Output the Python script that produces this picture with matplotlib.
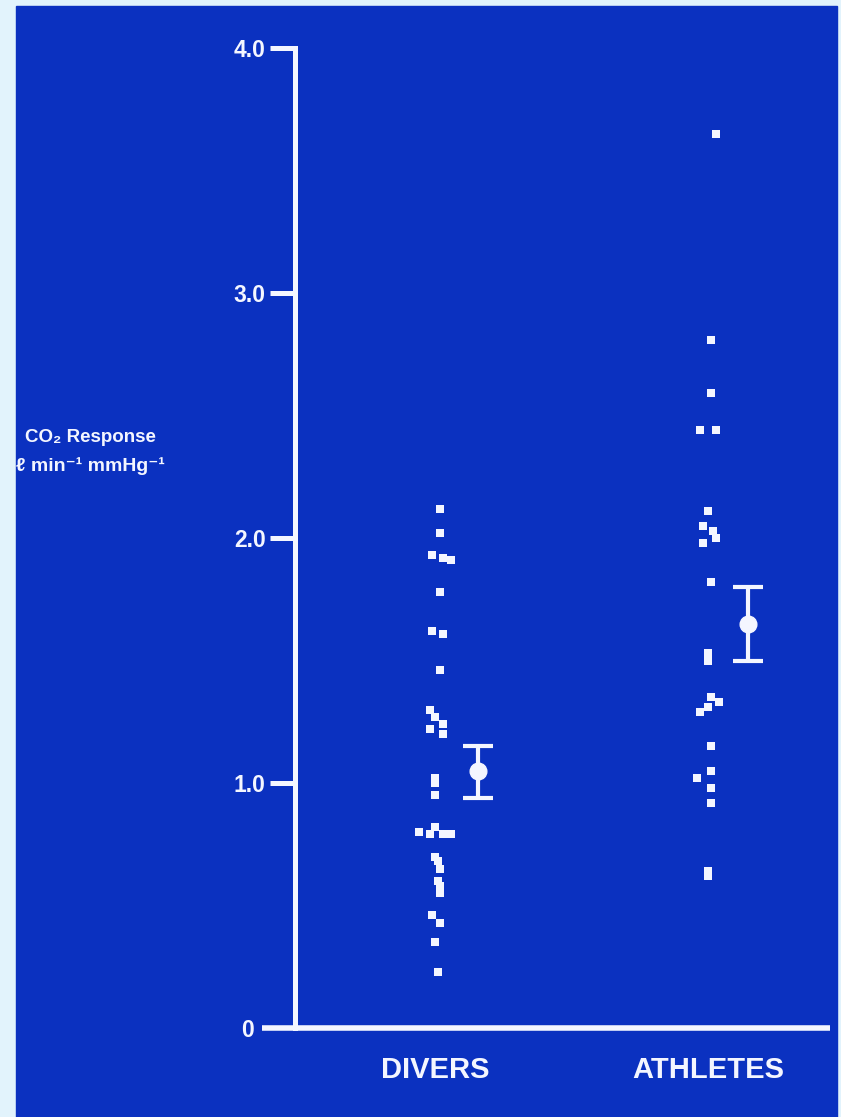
import matplotlib.pyplot as plt
from matplotlib.patches import Rectangle
from matplotlib.transforms import ScaledTranslation

# CO2 ventilatory response, l/min per mmHg
groups = ["DIVERS", "ATHLETES"]

divers = [2.12, 2.02, 1.93, 1.92, 1.91, 1.78, 1.62, 1.61, 1.46, 1.30, 1.27,
          1.24, 1.22, 1.20, 1.02, 1.00, 0.95, 0.82, 0.80, 0.79, 0.79, 0.79,
          0.70, 0.68, 0.65, 0.60, 0.58, 0.55, 0.46, 0.43, 0.35, 0.23]
athletes = [3.65, 2.81, 2.59, 2.44, 2.44, 2.11, 2.05, 2.03, 2.00, 1.98, 1.82,
            1.53, 1.50, 1.35, 1.33, 1.31, 1.29, 1.15, 1.05, 1.02, 0.98, 0.92,
            0.64, 0.62]

means = [1.05, 1.65]
sem_low = [0.11, 0.15]
sem_high = [0.10, 0.15]

y_ticks = [0, 1.0, 2.0, 3.0, 4.0]
y_tick_labels = ["0", "1.0", "2.0", "3.0", "4.0"]

# small sideways spread so tied values stay visible
divers_dx = [0.02, 0.02, -0.01, 0.03, 0.06, 0.02, -0.01, 0.03, 0.02, -0.02,
             0.0, 0.03, -0.02, 0.03, 0.0, 0.0, 0.0, 0.0, -0.06, -0.02, 0.03,
             0.06, 0.0, 0.01, 0.02, 0.01, 0.02, 0.02, -0.01, 0.02, 0.0, 0.01]
athletes_dx = [0.03, 0.01, 0.01, -0.03, 0.03, 0.0, -0.02, 0.02, 0.03, -0.02,
               0.01, 0.0, 0.0, 0.01, 0.04, 0.0, -0.03, 0.01, 0.01, -0.04,
               0.01, 0.01, 0.0, 0.0]

BLUE = "#0b31c0"
WHITE = "#f4f6ff"
FONT = ["Liberation Sans", "DejaVu Sans"]

W, H = 841, 1117
fig = plt.figure(figsize=(W / 100, H / 100), dpi=100)
fig.patch.set_facecolor("#e2f3fc")

# blue slide panel behind everything
fig.patches.append(Rectangle((16 / W, 0), (837 - 16) / W, (H - 6) / H,
                             transform=fig.transFigure, color=BLUE,
                             zorder=-10))

ax = fig.add_axes([295 / W, (H - 1028) / H, (830 - 295) / W, 980 / H])
ax.set_facecolor("none")
ax.set_xlim(-0.513, 1.447)
ax.set_ylim(0, 4.0)

for s in ["top", "right", "bottom"]:
    ax.spines[s].set_visible(False)
ax.spines["left"].set_color(WHITE)
ax.spines["left"].set_linewidth(3.6)
ax.axhline(0, xmin=-0.062, xmax=1.0, color=WHITE, lw=4.0,
           clip_on=False, solid_capstyle="butt")

ax.set_yticks(y_ticks, y_tick_labels)
ax.tick_params(axis="y", length=18, width=3.6, color=WHITE, pad=3,
               labelcolor=WHITE, labelsize=16.5)
ax.set_xticks([0, 1], groups)
ax.tick_params(axis="x", length=0, pad=20, labelcolor=WHITE, labelsize=21)
for lab in ax.get_xticklabels() + ax.get_yticklabels():
    lab.set_family(FONT)
    lab.set_fontweight("bold")

# the zero label sits left of where the baseline starts
zero_tick = ax.yaxis.get_major_ticks()[0]
zero_tick.tick1line.set_visible(False)
zero_tick.label1.set_transform(zero_tick.label1.get_transform()
                               + ScaledTranslation(-12 / 100, 0,
                                                   fig.dpi_scale_trans))

# individual subjects
ax.scatter([0 + d for d in divers_dx], divers, marker="s", s=40,
           color=WHITE, lw=0, zorder=3)
ax.scatter([1 + d for d in athletes_dx], athletes, marker="s", s=40,
           color=WHITE, lw=0, zorder=3)

# group mean +/- SEM
ax.errorbar([0.157, 1.147], means, yerr=[sem_low, sem_high], fmt="o",
            color=WHITE, ms=12, elinewidth=3, capsize=11, capthick=3,
            zorder=4)

fig.text(90 / W, 1 - 437 / H, "CO₂ Response", color=WHITE, fontsize=13.5,
         fontweight="bold", family=FONT, ha="center", va="center")
fig.text(90 / W, 1 - 466 / H, "ℓ min⁻¹ mmHg⁻¹", color=WHITE, fontsize=14,
         fontweight="bold", family=FONT, ha="center", va="center")

fig.savefig("out.png", dpi=100, facecolor=fig.get_facecolor())
